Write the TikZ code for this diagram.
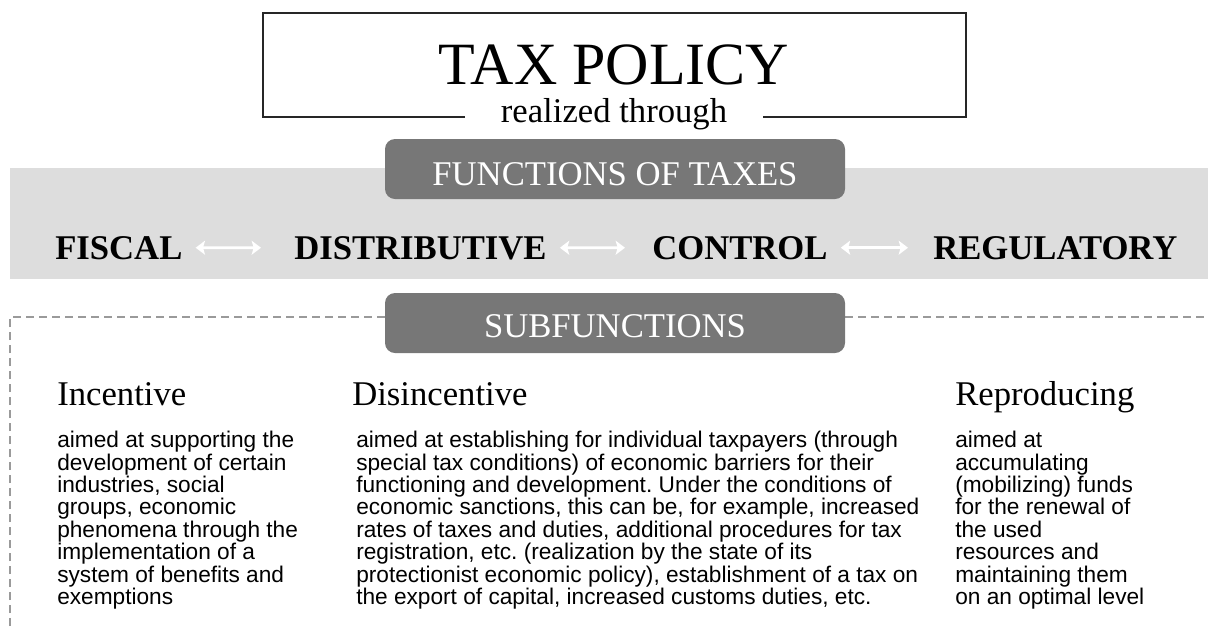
\documentclass[tikz,border=0pt]{standalone}
\usepackage{fontspec}
\setmainfont{Liberation Serif}
\newfontfamily\bodyfont{Liberation Sans}
\usetikzlibrary{arrows.meta}
\definecolor{bandgray}{HTML}{DDDDDD}
\definecolor{tabgray}{HTML}{777777}
\definecolor{dashgray}{HTML}{9A9A9A}
\frenchspacing

\begin{document}
\begin{tikzpicture}[x=0.75pt, y=-0.75pt,
  title/.style={inner sep=0, anchor=base, font=\fontsize{45}{54}\selectfont},
  subtitle/.style={inner sep=0, anchor=base, font=\fontsize{26}{31}\selectfont},
  tab/.style={fill=tabgray, rounded corners=7.5pt},
  tabtext/.style={inner sep=0, anchor=base, text=white, font=\fontsize{26}{31}\selectfont},
  func/.style={inner sep=0, anchor=base west, font=\bfseries\fontsize{26}{31}\selectfont},
  arr/.style={{Stealth[length=7pt,width=10.5pt,inset=1.5pt]}-{Stealth[length=7pt,width=10.5pt,inset=1.5pt]}, draw=white, line width=2.2pt, shorten <=13*0.75pt},
  head/.style={inner sep=0, anchor=base west, font=\fontsize{26}{31}\selectfont},
  body/.style={inner sep=0, anchor=north west, align=left, font=\bodyfont\fontsize{17}{16.8}\selectfont}]
\useasboundingbox (0,0) rectangle (1208,626);
% top box
\draw[line width=1pt, draw=black!85] (465,117) -- (263,117) -- (263,13) -- (966,13) -- (966,117) -- (763,117);
\node[title] (tax) at (614,84) {TAX POLICY};
\node[subtitle] (real) at (614,122) {realized through};
% functions band
\fill[bandgray] (10,168) rectangle (1208,279);
\fill[tab] (385,139) rectangle (845,199);
\node[tabtext] (funcs) at (615,185) {FUNCTIONS OF TAXES};
\node[func] (fis) at (55,259) {FISCAL};
\node[func] (dis) at (294,259) {DISTRIBUTIVE};
\node[func] (con) at (652,259) {CONTROL};
\node[func] (reg) at (933,259) {REGULATORY};
\draw[arr, shorten >=33*0.75pt] (fis) -- (dis);
\draw[arr, shorten >=27*0.75pt] (dis) -- (con);
\draw[arr, shorten >=25*0.75pt] (con) -- (reg);
% subfunctions
\draw[dashgray, line width=1.5pt, dash pattern=on 6pt off 3.75pt] (10,626) -- (10,317) -- (1208,317);
\fill[tab] (385,293) rectangle (845,353);
\node[tabtext] (subs) at (615,337) {SUBFUNCTIONS};
\node[head] (inc) at (57,405) {Incentive};
\node[head] (disinc) at (352,405) {Disincentive};
\node[head] (rep) at (955,405) {Reproducing};
\node[body] (inctext) at (57,431) {aimed at supporting the\\development of certain\\industries, social\\groups, economic\\phenomena through the\\implementation of a\\system of benefits and\\exemptions};
\node[body] (disinctext) at (356,431) {aimed at establishing for individual taxpayers (through\\special tax conditions) of economic barriers for their\\functioning and development. Under the conditions of\\economic sanctions, this can be, for example, increased\\rates of taxes and duties, additional procedures for tax\\registration, etc. (realization by the state of its\\protectionist economic policy), establishment of a tax on\\the export of capital, increased customs duties, etc.};
\node[body] (reptext) at (955,431) {aimed at\\accumulating\\(mobilizing) funds\\for the renewal of\\the used\\resources and\\maintaining them\\on an optimal level};
\end{tikzpicture}
\end{document}
